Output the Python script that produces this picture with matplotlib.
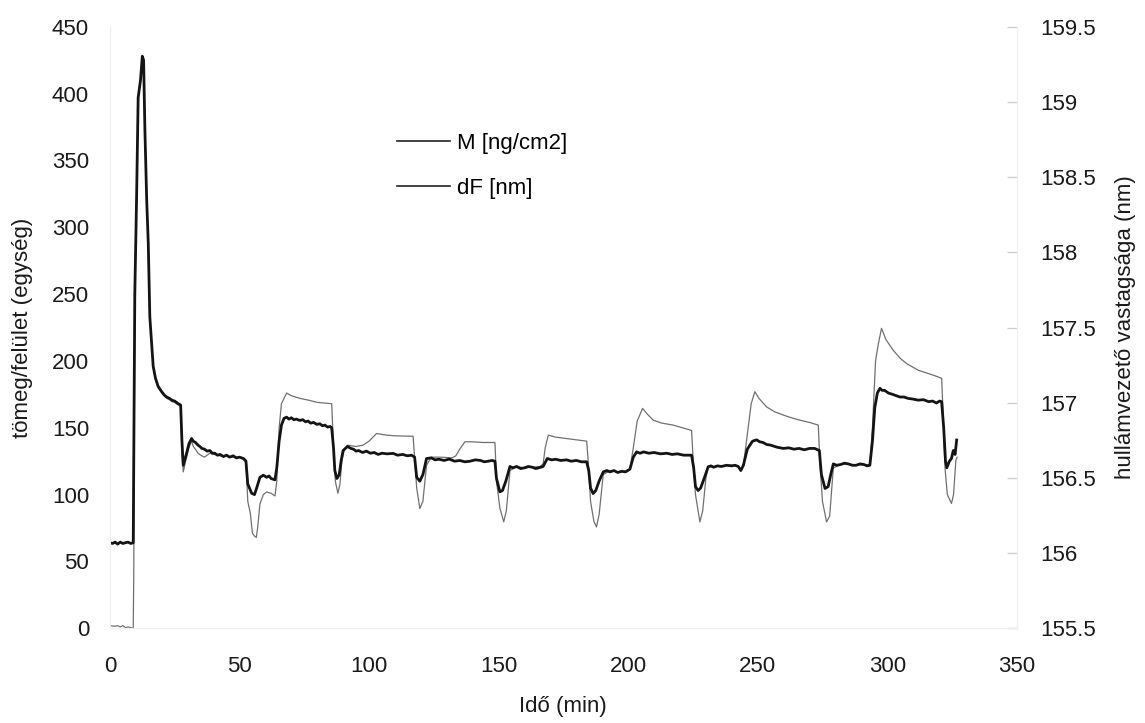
import matplotlib
matplotlib.use("Agg")
import matplotlib.pyplot as plt
from matplotlib.lines import Line2D

plt.rcParams['font.family'] = ['Liberation Sans', 'DejaVu Sans']

# dF [nm] - thick black line, right axis
t_df = [0, 1, 2, 3, 4, 5, 6, 7, 8, 9.0,
        9.6, 10.3, 10.9, 11.8, 12.5, 13.0, 13.5, 14.2, 14.8, 15.4, 16.7, 17.6, 18.6, 20, 21, 21.9, 23, 24, 25, 26, 27.3,
        27.8, 28.3, 29.2, 30.5, 31.5, 32.2, 33, 34, 34.7, 35.5, 36.5, 37.5, 38.6, 39.5, 40.5, 41.5, 42.5, 43.8, 45, 46.2, 47.6, 48.8, 50, 51.5, 52.5,
        53.2, 54.7, 55.8, 56.8, 57.9, 59.2, 60.5, 61.4, 62.2, 63.7,
        64.4, 65.3, 66.2, 67.2, 68.2, 69.1, 70, 71, 72, 73.3, 74.4, 75.5, 76.5, 77.5, 78.6, 79.8, 81, 82, 83, 84, 85, 85.6,
        86.3, 86.8, 87.6, 88.5, 89.3, 90, 91.7, 93, 94, 95, 96, 97.5, 99, 100.5, 102, 103.5, 105, 107, 109.3, 111, 113, 114.8, 116.4, 117.6,
        118.4, 119.6, 120.8, 122.2, 124, 125.5, 127, 129, 131, 133, 135, 137, 139, 141, 143, 144.5, 146, 147.5, 148.6,
        149.2, 150.5, 151.5, 152.8, 154.4, 155.5, 157, 158.5, 160, 161.5, 163, 164.3, 165.5, 167.2,
        168.8, 170.5, 172, 174, 176.3, 178, 180, 182, 184,
        184.8, 185.5, 186.5, 187.5, 188.8, 190.4, 191.8, 193, 194.5, 196, 197.5, 199, 200.7,
        202, 203.3, 204.6, 206, 208, 210, 212.5, 214.9, 217, 219, 221.5, 224.5,
        225.3, 226, 227, 228, 229.5, 230.9, 232, 233, 234.5, 236, 238, 240, 241.3, 242.5, 243.5, 244.5,
        246, 248, 249.6, 250.8, 252, 253.5, 255, 257.5, 259.9, 262, 264, 266, 268, 270, 272, 273.8,
        274.6, 276, 277.2, 278.2, 279.2, 280.5, 282, 283.5, 285, 286.5, 288, 289.5, 291, 292.3, 293.3,
        294.3, 295.2, 296.2, 297.2, 298, 299, 300.5, 302, 303.5, 304.9, 306.5, 308, 310, 312, 314, 316, 317.5, 319, 320.2, 321,
        321.8, 322.5, 323, 324, 324.8, 325.5, 326.2, 326.8]
df_nm = [156.069, 156.064, 156.073, 156.060, 156.073, 156.064, 156.069, 156.073, 156.064, 156.069,
         157.722, 158.371, 159.029, 159.144, 159.304, 159.278, 158.816, 158.344, 158.060, 157.571, 157.242, 157.162, 157.109, 157.073, 157.051, 157.038, 157.029, 157.016, 157.011, 156.998, 156.984,
         156.744, 156.584, 156.638, 156.727, 156.762, 156.744, 156.736, 156.718, 156.709, 156.696, 156.691, 156.678, 156.682, 156.664, 156.664, 156.651, 156.656, 156.642, 156.651, 156.638, 156.647, 156.633, 156.638, 156.629, 156.611,
         156.460, 156.398, 156.389, 156.442, 156.504, 156.518, 156.504, 156.513, 156.496, 156.487,
         156.567, 156.744, 156.851, 156.896, 156.904, 156.891, 156.900, 156.887, 156.891, 156.882, 156.887, 156.873, 156.878, 156.864, 156.869, 156.856, 156.860, 156.847, 156.851, 156.838, 156.842, 156.833,
         156.700, 156.549, 156.496, 156.522, 156.620, 156.682, 156.709, 156.696, 156.691, 156.678, 156.682, 156.669, 156.678, 156.664, 156.669, 156.656, 156.664, 156.660, 156.663, 156.651, 156.656, 156.647, 156.651, 156.638,
         156.504, 156.478, 156.522, 156.629, 156.633, 156.620, 156.624, 156.616, 156.625, 156.611, 156.616, 156.607, 156.611, 156.620, 156.616, 156.607, 156.611, 156.616, 156.611,
         156.496, 156.407, 156.416, 156.478, 156.576, 156.567, 156.576, 156.562, 156.567, 156.576, 156.571, 156.562, 156.567, 156.576,
         156.629, 156.620, 156.624, 156.616, 156.620, 156.611, 156.616, 156.607, 156.607,
         156.549, 156.433, 156.396, 156.416, 156.478, 156.540, 156.549, 156.540, 156.549, 156.536, 156.544, 156.540, 156.558,
         156.638, 156.673, 156.664, 156.673, 156.664, 156.669, 156.660, 156.664, 156.656, 156.660, 156.651, 156.651,
         156.567, 156.442, 156.416, 156.433, 156.504, 156.574, 156.580, 156.571, 156.580, 156.576, 156.584, 156.580, 156.584, 156.576, 156.549, 156.584,
         156.691, 156.744, 156.753, 156.740, 156.736, 156.722, 156.718, 156.704, 156.696, 156.700, 156.691, 156.696, 156.687, 156.696, 156.696, 156.682,
         156.522, 156.430, 156.442, 156.522, 156.593, 156.584, 156.589, 156.598, 156.593, 156.584, 156.584, 156.593, 156.589, 156.580, 156.584,
         156.744, 156.967, 157.064, 157.096, 157.082, 157.082, 157.064, 157.056, 157.047, 157.038, 157.038, 157.029, 157.024, 157.017, 157.020, 157.007, 157.011, 156.998, 157.011, 157.007,
         156.833, 156.611, 156.567, 156.611, 156.629, 156.682, 156.656, 156.752]

# M [ng/cm2] - thin grey line, left axis
t_m = [0, 2, 3, 4, 5, 6, 7, 8, 9,
       9.2, 9.6, 10.3, 10.9, 11.8, 12.5, 13.0, 13.5, 14.2, 14.8, 15.4, 16.7, 17.6, 18.6, 20, 21, 21.9, 23, 24, 25, 26, 27.3,
       27.8, 28.3, 29.2, 30.5, 31.5, 32.2, 33, 34, 34.7, 35.5, 36.5, 37.5, 38.6, 40.5, 42.5, 45, 47.6, 50, 51.5, 52.5,
       53.2, 54.2, 55, 55.8, 56.5, 57, 57.9, 59.2, 60.5, 62.2, 63.7,
       64.4, 65.3, 66.2, 68.2, 70, 73.3, 77, 80, 83, 85.6,
       86.3, 87, 88, 88.8, 89.5, 90.5, 91.7, 95, 97.7, 100, 102.9, 106.8, 110, 113, 117,
       117.6, 118.4, 119.6, 120.8, 122.2, 124, 128, 132, 133.5, 135, 137, 140, 144, 148.6,
       149.2, 150.5, 152, 153, 154.4, 157, 160, 163, 166, 167.2, 168, 169.2, 172, 176, 180, 184,
       184.6, 185.5, 186.8, 187.8, 188.8, 190.4, 193, 196, 199, 200.7, 202, 203.5, 205.6, 207.5, 209.7, 213, 217.4, 221, 224.5,
       225, 226, 227.7, 228.8, 230, 230.9, 233, 236, 240, 242.5, 243.5, 244.5, 246, 247.5, 248.9, 250.5, 253.4, 256.5, 259.9, 263, 266.3, 270, 273.4,
       274, 275, 276.6, 277.8, 279.2, 282, 285, 288, 291, 293.3, 294.3, 295.5, 296.5, 297.8, 299.5, 302.3, 305, 307.5, 312, 316, 319, 321,
       321.6, 322.3, 323.2, 324.8, 325.6, 326.5, 327]
m_val = [2, 1.5, 2, 1, 2, 0.5, 1, 0.5, 0,
         40, 250, 323, 397, 412, 425, 423, 373, 320, 288, 233, 196, 186, 180, 176, 174, 172, 171, 169.5, 169, 167.5, 166,
         130, 117, 125, 135, 140, 136, 134, 131, 130, 129, 128, 129.5, 131, 130, 129, 129, 128, 128, 127.5, 126,
         95, 86, 71, 69, 68, 75, 93, 100, 102, 101, 99,
         110, 150, 168, 176, 174, 172, 170.5, 169, 168.5, 168,
         135, 110, 101, 108, 125, 134, 137, 136, 137, 140, 145.7, 144.5, 144, 143.8, 143.7,
         128, 105, 89.6, 95, 122, 128, 128, 127.5, 129, 134, 139.5, 139.5, 139, 139,
         110, 90, 79.6, 88, 118, 121, 120, 120.5, 121, 123, 135, 144.5, 143, 142, 141, 140,
         125, 95, 80, 75.8, 85, 115, 118, 117, 117.5, 119, 135, 155, 164.5, 160, 155.7, 153.5, 152, 150, 148,
         130, 100, 79.6, 88, 112, 120.8, 121, 121.5, 122, 121, 118, 122, 145, 168, 177, 172, 165.7, 162, 159.5, 157.5, 155.7, 154, 152,
         125, 95, 79.6, 84, 120, 122.5, 123, 122, 122.5, 122, 150, 200, 212, 224.4, 216, 208, 202, 198, 193, 190.5, 188.5, 187,
         160, 120, 100, 93.4, 100, 125.8, 128]

x_ticks = [0, 50, 100, 150, 200, 250, 300, 350]
left_ticks = [0, 50, 100, 150, 200, 250, 300, 350, 400, 450]
right_ticks = [155.5, 156, 156.5, 157, 157.5, 158, 158.5, 159, 159.5]
right_labels = ['155.5', '156', '156.5', '157', '157.5', '158', '158.5', '159', '159.5']

fig = plt.figure(figsize=(11.45, 7.23), dpi=100)
ax = fig.add_axes([0.096, 0.131, 0.792, 0.832])
ax2 = ax.twinx()

ax.plot(t_m, m_val, color='#707070', lw=0.9)
ax2.plot(t_df, df_nm, color='#141414', lw=2.0)

ax.set_xlim(0, 350)
ax.set_ylim(0, 450)
ax2.set_ylim(155.5, 159.5)
ax.set_xticks(x_ticks)
ax.set_yticks(left_ticks)
ax2.set_yticks(right_ticks)
ax2.set_yticklabels(right_labels)

fs = 16
ax.tick_params(axis='x', length=0, pad=20, labelsize=fs, labelcolor='#1a1a1a')
ax.tick_params(axis='y', length=0, pad=15, labelsize=fs, labelcolor='#1a1a1a')
ax2.tick_params(axis='y', direction='in', length=7, width=1, color='#cfcfcf',
                pad=17, labelsize=fs, labelcolor='#1a1a1a')

for a in (ax, ax2):
    for s in a.spines.values():
        s.set_color('#efefef')
    a.spines['top'].set_visible(False)

ax.set_xlabel('Idő (min)', fontsize=fs, color='#1a1a1a')
ax.xaxis.set_label_coords(0.5, -0.112)
ax.set_ylabel('tömeg/felület (egység)', fontsize=fs, color='#1a1a1a')
ax.yaxis.set_label_coords(-0.085, 0.5)
ax2.set_ylabel('hullámvezető vastagsága (nm)', fontsize=fs, color='#1a1a1a')
ax2.yaxis.set_label_coords(1.108, 0.5)

handles = [Line2D([], [], color='#222222', lw=1.2), Line2D([], [], color='#222222', lw=1.2)]
fig.legend(handles, ['M [ng/cm2]', 'dF [nm]'], loc='center left',
           bbox_to_anchor=(397 / 1145, 1 - 166 / 723), frameon=False, fontsize=fs,
           handlelength=2.4, handletextpad=0.3, labelspacing=1.1,
           borderpad=0, borderaxespad=0)

fig.savefig('out.png', dpi=100)
